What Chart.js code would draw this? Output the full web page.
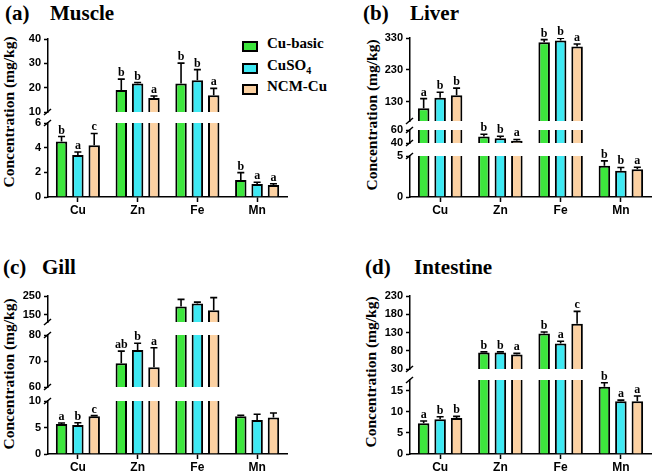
<!DOCTYPE html>
<html>
<head>
<meta charset="utf-8">
<script src="https://cdn.jsdelivr.net/npm/chart.js@4.4.1/dist/chart.umd.min.js"></script>
<style>
  body { margin: 0; width: 653px; height: 474px; overflow: hidden; position: relative; background: #fff;
         font-family: 'Liberation Serif', 'Times New Roman', serif; color: #000; }
  canvas { position: absolute; }
  .ttl { position: absolute; font-weight: bold; font-size: 21px; line-height: 21px; white-space: nowrap; }
  .ytl { position: absolute; font-weight: bold; font-size: 15.5px; line-height: 16px; white-space: nowrap;
         transform: translate(-50%, -50%) rotate(-90deg); }
  .leg { position: absolute; left: 242px; font-weight: bold; font-size: 15px; line-height: 16px; white-space: nowrap; }
  .leg span.box { position: absolute; left: 0; top: 2px; width: 12px; height: 7px; border: 2px solid #000; }
  .leg span.txt { position: absolute; left: 25px; top: -4px; }
</style>
</head>
<body>

<div class="ttl" style="left:5px;top:3px">(a)</div><div class="ttl" style="left:50px;top:3px">Muscle</div>
<div class="ttl" style="left:363px;top:3px">(b)</div><div class="ttl" style="left:410px;top:3px">Liver</div>
<div class="ttl" style="left:3px;top:257px">(c)</div><div class="ttl" style="left:42px;top:257px">Gill</div>
<div class="ttl" style="left:365px;top:257px">(d)</div><div class="ttl" style="left:414px;top:257px">Intestine</div>

<div class="ytl" style="left:9px;top:112px">Concentration (mg/kg)</div>
<div class="ytl" style="left:372px;top:115px">Concentration (mg/kg)</div>
<div class="ytl" style="left:9px;top:374px">Concentration (mg/kg)</div>
<div class="ytl" style="left:371px;top:372px">Concentration (mg/kg)</div>

<div class="leg" style="top:39px"><span class="box" style="background:#3de63d"></span><span class="txt">Cu-basic</span></div>
<div class="leg" style="top:61px"><span class="box" style="background:#3fe9f3"></span><span class="txt">CuSO<sub style="font-size:10px">4</sub></span></div>
<div class="leg" style="top:82px"><span class="box" style="background:#fcd1a2"></span><span class="txt">NCM-Cu</span></div>

<script>
// categories and groups
const elements = ['Cu', 'Zn', 'Fe', 'Mn'];
const groups = ['Cu-basic', 'CuSO4', 'NCM-Cu'];
const fills = ['#3de63d', '#3fe9f3', '#fcd1a2'];

// (a) muscle
const muscleBasic = [4.5, 19.0, 21.7, 1.38];
const muscleBasicErr = [0.4, 4.5, 8.4, 0.6];
const muscleCuSO4 = [3.4, 21.7, 23.0, 1.05];
const muscleCuSO4Err = [0.25, 0.4, 4.4, 0.15];
const muscleNCM = [4.2, 15.8, 16.9, 0.97];
const muscleNCMErr = [0.95, 0.8, 2.8, 0.1];
const muscleLetters = [['b', 'b', 'b', 'b'], ['a', 'b', 'b', 'a'], ['c', 'a', 'a', 'a']];

// (b) liver
const liverBasic = [110, 50, 317, 3.8];
const liverBasicErr = [30, 3.5, 8, 0.6];
const liverCuSO4 = [143, 47.5, 322, 3.2];
const liverCuSO4Err = [17, 3, 7, 0.4];
const liverNCM = [151, 43.5, 303, 3.37];
const liverNCMErr = [22, 2, 8, 0.25];
const liverLetters = [['a', 'b', 'b', 'b'], ['b', 'b', 'b', 'b'], ['b', 'a', 'a', 'a']];

// (c) gill
const gillBasic = [5.64, 69.1, 194, 7.1];
const gillBasicErr = [0.2, 4.7, 38, 0.2];
const gillCuSO4 = [5.45, 74.2, 209, 6.4];
const gillCuSO4Err = [0.45, 2.6, 8, 1.1];
const gillNCM = [7.1, 67.6, 173, 6.9];
const gillNCMErr = [0.15, 7.5, 68, 0.85];
const gillLetters = [['a', 'ab', '', ''], ['b', 'b', '', ''], ['c', 'a', '', '']];

// (d) intestine
const intBasic = [7.3, 75.5, 127, 15.9];
const intBasicErr = [0.5, 1.5, 4.5, 0.95];
const intCuSO4 = [8.2, 75.5, 100, 12.5];
const intCuSO4Err = [0.6, 1.5, 6, 0.25];
const intNCM = [8.5, 70, 154, 12.5];
const intNCMErr = [0.4, 2.8, 34, 1.2];
const intLetters = [['a', 'b', 'b', 'b'], ['b', 'b', 'a', 'a'], ['b', 'a', 'c', 'a']];

// axis segments (broken axes): ranges and tick labels
const muscleTicks = [[10, 20, 30, 40], [0, 2, 4, 6]];
const muscleRanges = [[10, 40], [0, 6]];
const liverTicks = [[130, 230, 330], [40, 60], [0, 5]];
const liverRanges = [[70, 330], [40, 60], [0, 5]];
const gillTicks = [[150, 250], [60, 70, 80], [0, 5, 10]];
const gillRanges = [[110, 250], [60, 80], [0, 10]];
const intTicks = [[30, 80, 130, 180, 230], [0, 5, 10, 15]];
const intRanges = [[30, 230], [0, 17.5]];

const sans = "'Liberation Sans', Arial, sans-serif";
const serif = "'Liberation Serif', 'Times New Roman', serif";

// where each panel and segment sits on the page
const panels = [
  { left: 0, axisX: 48, right: 287, series: [muscleBasic, muscleCuSO4, muscleNCM],
    errs: [muscleBasicErr, muscleCuSO4Err, muscleNCMErr], letters: muscleLetters,
    ticks: muscleTicks, ranges: muscleRanges, px: [[38.5, 112], [123, 197]] },
  { left: 330, axisX: 410, right: 651, series: [liverBasic, liverCuSO4, liverNCM],
    errs: [liverBasicErr, liverCuSO4Err, liverNCMErr], letters: liverLetters,
    ticks: liverTicks, ranges: liverRanges, px: [[38.3, 120.7], [130, 143.3], [156, 196.7]] },
  { left: 0, axisX: 48, right: 287, series: [gillBasic, gillCuSO4, gillNCM],
    errs: [gillBasicErr, gillCuSO4Err, gillNCMErr], letters: gillLetters,
    ticks: gillTicks, ranges: gillRanges, px: [[295.7, 321.7], [335, 387.3], [400.7, 454.3]] },
  { left: 330, axisX: 410, right: 651, series: [intBasic, intCuSO4, intNCM],
    errs: [intBasicErr, intCuSO4Err, intNCMErr], letters: intLetters,
    ticks: intTicks, ranges: intRanges, px: [[295.7, 369], [380.1, 454.3]] }
];

// error bars, letters and axis break marks
const errPlugin = {
  id: 'errbars',
  afterDatasetsDraw(chart, args, opts) {
    const ctx = chart.ctx;
    const area = chart.chartArea;
    const y = chart.scales.y;
    chart.data.datasets.forEach((ds, i) => {
      chart.getDatasetMeta(i).data.forEach((bar, j) => {
        const v = ds.data[j], e = ds.errs[j];
        const yv = y.getPixelForValue(v), ye = y.getPixelForValue(v + e);
        ctx.save();
        ctx.beginPath();
        ctx.rect(area.left, area.top, area.right - area.left, area.bottom - area.top);
        ctx.clip();
        ctx.strokeStyle = '#000';
        ctx.lineWidth = 1.6;
        ctx.beginPath();
        ctx.moveTo(bar.x, yv);
        ctx.lineTo(bar.x, ye);
        ctx.moveTo(bar.x - 3.5, ye);
        ctx.lineTo(bar.x + 3.5, ye);
        ctx.stroke();
        ctx.restore();
        const top = v + e;
        if (ds.marks[j] && top >= opts.min && (opts.isTop || top <= opts.max)) {
          ctx.save();
          ctx.fillStyle = '#000';
          ctx.font = 'bold 12px ' + serif;
          ctx.textAlign = 'center';
          ctx.textBaseline = 'alphabetic';
          ctx.fillText(ds.marks[j], bar.x, ye - 3);
          ctx.restore();
        }
      });
    });
  },
  afterDraw(chart, args, opts) {
    const ctx = chart.ctx;
    const a = chart.chartArea;
    ctx.save();
    ctx.strokeStyle = '#000';
    ctx.lineWidth = 1.5;
    ctx.beginPath();
    if (!opts.isBottom) { ctx.moveTo(a.left - 4, a.bottom + 3); ctx.lineTo(a.left + 3, a.bottom - 3); }
    if (!opts.isTop) { ctx.moveTo(a.left - 4, a.top + 3); ctx.lineTo(a.left + 3, a.top - 3); }
    ctx.stroke();
    ctx.restore();
  }
};

function makeSeg(p, k) {
  const n = p.ranges.length;
  const isTop = k === 0, isBottom = k === n - 1;
  const yTop = Math.round(p.px[k][0]), yBot = Math.round(p.px[k][1]);
  const padT = 24, padB = 10, xh = 24;
  const cv = document.createElement('canvas');
  cv.width = p.right - p.left + 6;
  cv.height = padT + (yBot - yTop) + (isBottom ? xh : padB);
  cv.style.left = p.left + 'px';
  cv.style.top = (yTop - padT) + 'px';
  document.body.appendChild(cv);

  new Chart(cv, {
    type: 'bar',
    data: {
      labels: elements,
      datasets: p.series.map((vals, i) => ({
        label: groups[i],
        data: vals,
        errs: p.errs[i],
        marks: p.letters[i],
        backgroundColor: fills[i],
        borderColor: '#000',
        borderWidth: 2,
        borderSkipped: 'start',
        barPercentage: 0.7,
        categoryPercentage: 0.82
      }))
    },
    options: {
      responsive: false,
      animation: false,
      events: [],
      layout: { padding: { top: padT, bottom: isBottom ? 0 : padB, left: 0, right: 6 } },
      plugins: {
        legend: { display: false },
        tooltip: { enabled: false },
        errbars: { min: p.ranges[k][0], max: p.ranges[k][1], isTop, isBottom }
      },
      scales: {
        x: {
          display: isBottom,
          offset: true,
          grid: { display: true, drawOnChartArea: false, offset: false, tickLength: 5, tickColor: '#000', tickWidth: 1.5 },
          border: { color: '#000', width: 1.5 },
          ticks: { color: '#000', font: { family: sans, weight: 'bold', size: 12 }, padding: 1 },
          afterFit: sc => { if (isBottom) sc.height = xh; }
        },
        y: {
          min: p.ranges[k][0],
          max: p.ranges[k][1],
          afterFit: sc => { sc.width = p.axisX - p.left; },
          afterBuildTicks: sc => { sc.ticks = p.ticks[k].map(v => ({ value: v })); },
          grid: { drawOnChartArea: false, tickLength: 4, tickColor: '#000', tickWidth: 1.5 },
          border: { color: '#000', width: 1.5 },
          ticks: { color: '#000', font: { family: sans, weight: 'bold', size: 11 }, padding: 3, autoSkip: false }
        }
      }
    },
    plugins: [errPlugin]
  });
}

panels.forEach(p => {
  for (let k = 0; k < p.ranges.length; k++) makeSeg(p, k);
});
</script>
</body>
</html>
